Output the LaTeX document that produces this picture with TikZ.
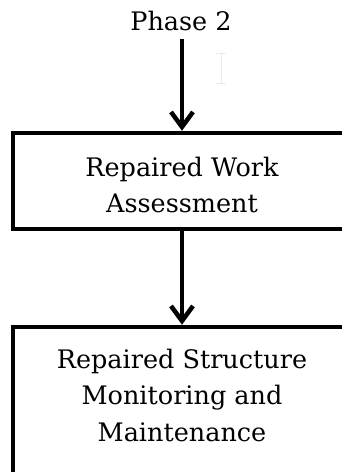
\documentclass[tikz,border=0pt]{standalone}
\usepackage{fontspec}
\setmainfont{DejaVu Serif}
\usetikzlibrary{arrows.meta}
\begin{document}
\begin{tikzpicture}[x=1pt,y=1pt,
  boxnode/.style={draw=black, line width=4.5pt, rectangle, inner sep=0pt},
  txt/.style={align=center, inner sep=0pt, font=\fontsize{25.5}{36.5}\selectfont},
  arr/.style={line width=4.5pt, -{Straight Barb[length=15pt,width=22pt]}},
  cursor/.style={draw=black!8, line width=1pt}]
\useasboundingbox (0,0) rectangle (342,-472);
\clip (0,0) rectangle (342,-472);
\fill[white] (0,0) rectangle (342,-472);
\node[anchor=base, inner xsep=0pt, inner ysep=8pt, font=\fontsize{25.5}{30}\selectfont] (phase) at (181,-30) {Phase 2};
\node[boxnode, minimum width=338pt, minimum height=96pt] (b1) at (182,-181) {};
\node[txt] (t1) at (182,-185) {Repaired Work\\Assessment};
\node[boxnode, minimum width=338pt, minimum height=150pt] (b2) at (182,-402) {};
\node[txt] (t2) at (182,-395) {Repaired Structure\\Monitoring and\\Maintenance};
\draw[arr] (phase.south -| b1.north) -- (b1.north);
\draw[arr] (b1.south) -- (b2.north);
% faint text cursor
\coordinate (ct) at (221,-53);
\coordinate (cb) at (221,-83);
\draw[cursor] (ct) -- (cb);
\draw[cursor] ([xshift=-5pt]ct) -- ([xshift=5pt]ct);
\draw[cursor] ([xshift=-5pt]cb) -- ([xshift=5pt]cb);
\end{tikzpicture}
\end{document}
